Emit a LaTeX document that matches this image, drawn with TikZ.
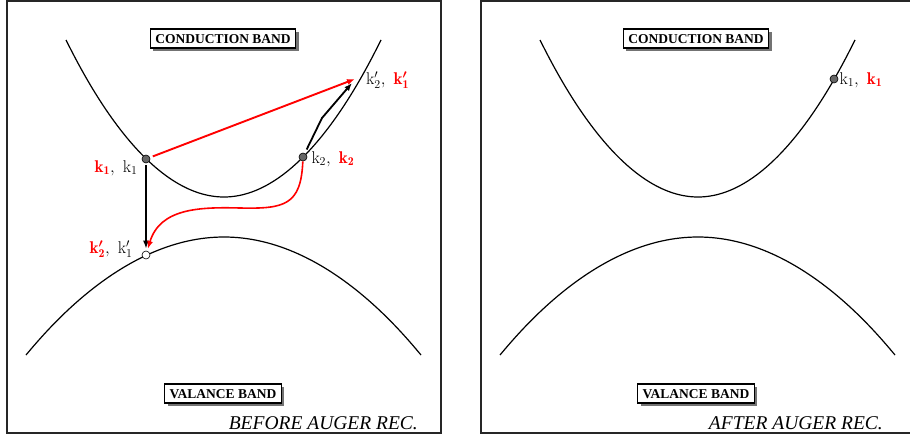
\documentclass[tikz,border=0pt]{standalone}
\usepackage{amsmath, bm}
\usepackage{fontspec}
\newfontfamily\timesfont{Liberation Serif}
\usetikzlibrary{arrows.meta, positioning, calc, shadows}
\newcommand{\kb}[1]{\mathrm{k}_{#1}}
\newcommand{\kr}[1]{\textcolor{red}{\mathbf{k}_{\mathbf{#1}}}}
\newcommand{\kbp}[1]{\mathrm{k}'_{#1}}
\newcommand{\krp}[1]{\textcolor{red}{\mathbf{k}^{\bm{\prime}}_{\mathbf{#1}}}}

\begin{document}
\begin{tikzpicture}[x=1pt, y=-1pt, >={Latex[length=8pt,width=6pt]},
  band/.style={line width=1.2pt},
  frame/.style={line width=1.4pt, black!85},
  bandbox/.style={draw, line width=1.1pt, fill=white,
    font=\timesfont\bfseries\fontsize{13.5}{15}\selectfont,
    inner xsep=5pt, minimum height=19pt, text height=9.5pt, text depth=0pt,
    drop shadow={shadow xshift=3pt, shadow yshift=-3pt, fill=black!55, opacity=1}},
  caption/.style={font=\timesfont\itshape\fontsize{19.5}{22}\selectfont,
    anchor=base east, inner sep=0pt},
  dot/.style={circle, draw, fill=black!60, minimum size=8pt, inner sep=0pt, line width=0.6pt},
  hole/.style={dot, fill=white},
  klbl/.style={font=\fontsize{17}{19}\selectfont, inner sep=0pt},
  arr/.style={->, line width=1.8pt}]
  \useasboundingbox (0,0) rectangle (910,439);

  % Left panel: before recombination
  \draw[frame] (7,1) rectangle (441,433);
  \draw[band] (66,40) parabola bend (224,197) (381,40);
  \draw[band] (26,355) parabola bend (224,237) (421,355);
  \node[bandbox] (cbL) at (223,38.5) {CONDUCTION BAND};
  \node[bandbox] (vbL) at (223,393.5) {VALANCE BAND};
  \node[caption] (capL) at (418,429) {BEFORE AUGER REC.};

  % Carriers
  \node[dot] (k1) at (146,159) {};
  \node[dot] (k2) at (303,157) {};
  \node[hole] (h1) at (146,255) {};
  \coordinate (kf) at (360,79);
  \coordinate (kink) at (322,118);

  % Transitions
  \draw[arr, shorten <=2pt, shorten >=2pt] (k1) -- (h1);
  \draw[arr, red, line width=1.9pt, shorten <=3pt] (k1) -- ([xshift=-5pt]kf);
  \draw[arr, shorten <=4pt] (k2) -- (kink) -- ([xshift=-8pt,yshift=-4pt]kf);
  \draw[arr, red, line width=1.6pt, shorten >=2pt] (k2)
    .. controls (301,205) and (285,209) .. (240,208)
    .. controls (200,207) and (160,208) .. (h1);

  % Labels
  \node[klbl, left=4pt of k1, yshift=-9pt] (lk1) {$\kr{1},\ \kb{1}$};
  \node[klbl, right=4pt of k2, yshift=-2pt] (lk2) {$\kb{2},\ \kr{2}$};
  \node[klbl, left=9pt of h1, yshift=6pt] (lh1) {$\krp{2},\ \kbp{1}$};
  \node[klbl, right=6pt of kf, yshift=-1pt] (lkf) {$\kbp{2},\ \krp{1}$};

  % Right panel: after recombination
  \draw[frame] (481,1) rectangle (916,433);
  \draw[band] (540,40) parabola bend (698,197) (855,40);
  \draw[band] (500,355) parabola bend (698,237) (895,355);
  \node[bandbox] (cbR) at (696,38.5) {CONDUCTION BAND};
  \node[bandbox] (vbR) at (696,393.5) {VALANCE BAND};
  \node[caption] (capR) at (883,429) {AFTER AUGER REC.};
  \node[dot] (k1R) at (834,79) {};
  \node[klbl, right=1pt of k1R, yshift=-1pt] (lk1R) {$\kb{1},\ \kr{1}$};
\end{tikzpicture}
\end{document}
